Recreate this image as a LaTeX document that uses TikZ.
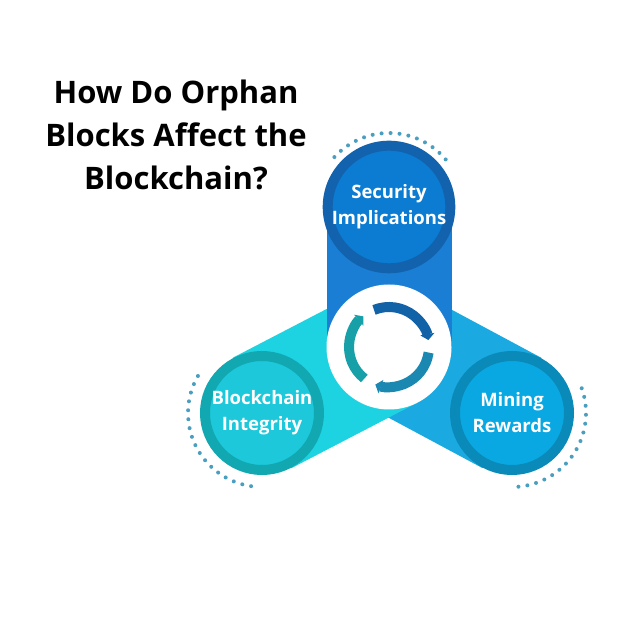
\documentclass[tikz,border=0pt]{standalone}
\usepackage{fontspec}
\setmainfont{Open Sans}
\usetikzlibrary{arrows.meta,calc}
\definecolor{topA}{HTML}{1A7FD4}\definecolor{topR}{HTML}{1262AE}\definecolor{topI}{HTML}{0B7CD2}
\definecolor{leftA}{HTML}{1DD3E2}\definecolor{leftR}{HTML}{12A8B2}\definecolor{leftI}{HTML}{1CC8DA}
\definecolor{rightA}{HTML}{1AA9E0}\definecolor{rightR}{HTML}{0A8AB8}\definecolor{rightI}{HTML}{0AA8E2}
\definecolor{dots}{HTML}{4A9EC0}
\definecolor{arA}{HTML}{1262A8}\definecolor{arB}{HTML}{1A88B0}\definecolor{arC}{HTML}{18A0A8}
\tikzset{arm/.style={line width=125pt},
ringc/.style={circle,minimum size=114pt,line width=10pt,text=white,font=\bfseries\fontsize{18.5}{26}\selectfont,align=center,inner sep=0pt},
dotarc/.style={dots,line width=4pt,line cap=round,dash pattern=on 0pt off 9pt},
cyc/.style={line width=10pt,-{Triangle[length=6pt,width=14pt]}}}
\begin{document}
\begin{tikzpicture}[x=1pt,y=1pt]
\useasboundingbox[fill=white] (0,0) rectangle (626,626);
\coordinate (c) at (389,279);
\coordinate (t) at (389,419);
\coordinate (l) at (262,213);
\coordinate (r) at (512,213);
\draw[arm,rightA] (c) -- (r);
\draw[arm,leftA] (c) -- (l);
\draw[arm,topA] (c) -- (t);
\node[ringc,draw=topR,fill=topI] (sec) at (t) {Security\\Implications};
\node[ringc,draw=leftR,fill=leftI] (bi) at (l) {Blockchain\\Integrity};
\node[ringc,draw=rightR,fill=rightI] (mr) at (r) {Mining\\Rewards};
\node[circle,fill=white,minimum size=125pt] (hub) at (c) {};
\draw[cyc,arA] ($(c)+(112:40)$) arc[start angle=112,end angle=10,radius=40];
\draw[cyc,arB] ($(c)+(352:40)$) arc[start angle=352,end angle=250,radius=40];
\draw[cyc,arC] ($(c)+(232:40)$) arc[start angle=232,end angle=130,radius=40];
\draw[dotarc] ($(t)+(40:74)$) arc[start angle=40,end angle=140,radius=74];
\draw[dotarc] ($(l)+(150:74)$) arc[start angle=150,end angle=265,radius=74];
\draw[dotarc] ($(r)+(-85:74)$) arc[start angle=-85,end angle=25,radius=74];
\node[font=\bfseries\fontsize{31}{43}\selectfont,align=center] (title) at (176,491) {How Do Orphan\\Blocks Affect the\\Blockchain?};
\end{tikzpicture}
\end{document}
